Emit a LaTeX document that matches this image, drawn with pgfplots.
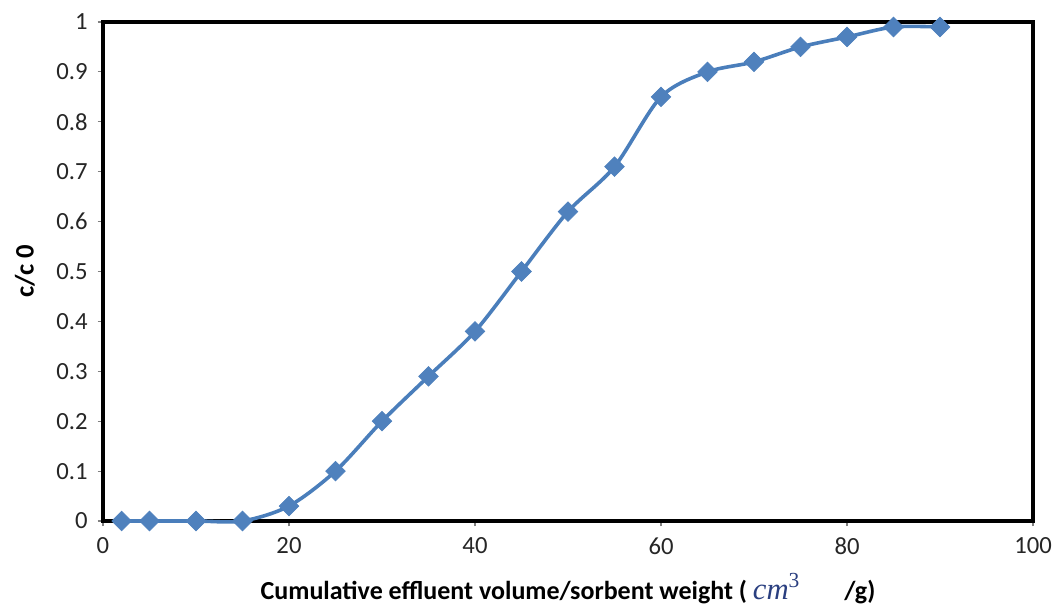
\documentclass[border=0pt]{standalone}
\usepackage{pgfplots}
\pgfplotsset{compat=1.18}
\usepackage{fontspec}
\setmainfont{Carlito}
\newfontfamily\cmfont{Liberation Serif}
\definecolor{lineblue}{HTML}{4A7EBB}
\definecolor{markblue}{HTML}{4F81BD}
\definecolor{navy}{HTML}{2A3F80}
\begin{document}
\begin{tikzpicture}
\begin{axis}[
  name=ax,
  scale only axis,
  width=697.5pt, height=374.25pt,
  xmin=0, xmax=100, ymin=0, ymax=1,
  xtick={0,20,...,100},
  ytick={0,0.1,...,1.0},
  yticklabels={0,0.1,0.2,0.3,0.4,0.5,0.6,0.7,0.8,0.9,1},
  axis line style={line width=2.6pt, black},
  tick align=outside,
  major tick length=4pt,
  tick style={gray, line width=0.8pt},
  xtick pos=bottom, ytick pos=left,
  /pgf/number format/assume math mode=true,
  ticklabel style={font=\fontsize{18.5}{21}\selectfont, text=black!85},
  xticklabel style={yshift=-5pt},
  yticklabel style={xshift=-4pt},
  xlabel={\textbf{Cumulative effluent volume/sorbent weight (} {\color{navy}\cmfont\fontsize{23}{26}\selectfont\itshape cm\textsuperscript{\upshape 3}}\hspace{1.7em}\textbf{/g)}},
  ylabel={\textbf{c/c 0}},
  xlabel style={at={(axis description cs:0.5,-0.158)}, anchor=base, font=\fontsize{19.5}{22}\selectfont},
  ylabel style={at={(axis description cs:-0.0839,0.5)}, anchor=center, font=\fontsize{20}{23}\selectfont},
  clip=false,
]
\addplot[color=lineblue, line width=2.7pt, smooth, tension=0.5,
  mark=square*, mark size=5.2pt, mark options={rotate=45, fill=markblue, draw=markblue, line width=0.5pt}]
coordinates {
(2,0) (5,0) (10,0) (15,0) (20,0.03) (25,0.1) (30,0.2) (35,0.29) (40,0.38)
(45,0.5) (50,0.62) (55,0.71) (60,0.85) (65,0.9) (70,0.92) (75,0.95) (80,0.97)
(85,0.99) (90,0.99)
};
\end{axis}
\pgfresetboundingbox
\path ([xshift=-77.25pt, yshift=-67.5pt]ax.south west) rectangle ([xshift=18pt, yshift=16.5pt]ax.north east);
\end{tikzpicture}
\end{document}
